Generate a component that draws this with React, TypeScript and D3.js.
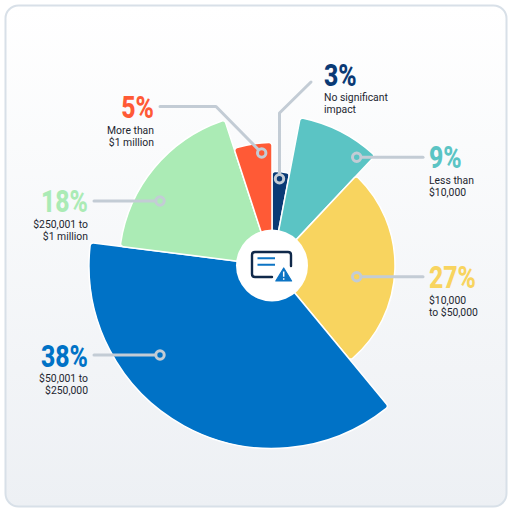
import React from "react";
import * as d3 from "d3";

const categories = ["No significant impact", "Less than $10,000", "$10,000 to $50,000", "$50,001 to $250,000", "$250,001 to $1 million", "More than $1 million"];
const shares = [3, 9, 27, 38, 18, 5];
const reach = [94, 150.5, 123, 183, 153, 123];
const colors = ["#0a3a75", "#5bc4c4", "#f8d45f", "#0072c6", "#abebb5", "#ff5a36"];
const labelLines = [["No significant", "impact"], ["Less than", "$10,000"], ["$10,000", "to $50,000"], ["$50,001 to", "$250,000"], ["$250,001 to", "$1 million"], ["More than", "$1 million"]];

const cx = 272, cy = 265.5;
const leaders: { pts: [number, number][]; x: number; y: number; a: "start" | "end"; l1: number }[] = [
  { pts: [[279.5, 178.7], [279.5, 113], [311, 82]], x: 324, y: 86, a: "start", l1: 101 },
  { pts: [[356.7, 157.3], [423, 157.3]], x: 429, y: 168, a: "start", l1: 184 },
  { pts: [[356.7, 276.7], [423, 276.7]], x: 429, y: 288, a: "start", l1: 304 },
  { pts: [[160, 355], [94, 355]], x: 88, y: 367, a: "end", l1: 382 },
  { pts: [[160, 201], [94, 201]], x: 88, y: 212, a: "end", l1: 228 },
  { pts: [[261.7, 153], [216, 106.5], [160, 106.5]], x: 154, y: 118, a: "end", l1: 134 },
];

export default function App() {
  const pie = d3.pie<number>().sort(null).value((d) => d)(shares);
  const arc = d3.arc<any>().innerRadius(20).cornerRadius(3);
  const line = d3.line();
  return (
    <svg width={512} height={512} style={{ position: "absolute", left: 0, top: 0 }} fontFamily="Roboto, sans-serif">
      <defs>
        <linearGradient id="bg" x1="0" y1="0" x2="0" y2="1">
          <stop offset="0" stopColor="#ffffff" />
          <stop offset="1" stopColor="#edf0f4" />
        </linearGradient>
      </defs>
      <rect x={5.5} y={5.5} width={501} height={501} rx={13} fill="url(#bg)" stroke="#d8e0e8" strokeWidth={2} />
      <g transform={`translate(${cx},${cy})`}>
        {pie.map((p, i) => (
          <path key={categories[i]} d={arc({ ...p, outerRadius: reach[i] }) as string} fill={colors[i]} stroke="#fff" strokeWidth={1.5} />
        ))}
        <circle r={36} fill="#fff" />
      </g>
      {leaders.map((l, i) => (
        <g key={i}>
          <path d={line(l.pts) as string} fill="none" stroke="#c3ccd5" strokeWidth={3} strokeLinecap="round" strokeLinejoin="round" />
          <circle cx={l.pts[0][0]} cy={l.pts[0][1]} r={4.2} fill={colors[i]} stroke="#c3ccd5" strokeWidth={3} />
          <g transform={`translate(${l.x},${l.y}) scale(0.8,1)`}>
            <text fontSize={31} fontWeight={800} fill={colors[i]} textAnchor={l.a}>{shares[i]}%</text>
          </g>
          {labelLines[i].map((t, j) => (
            <text key={t} x={l.x} y={l.l1 + j * 12.3} fontSize={10.4} fill="#1d2630" textAnchor={l.a}>{t}</text>
          ))}
        </g>
      ))}
      <g>
        <path d="M272 277 H255 Q252 277 252 274 V255 Q252 252 255 252 H288 Q291 252 291 255 V266" fill="none" stroke="#10294a" strokeWidth={2.4} strokeLinecap="round" />
        <path d="M257.5 258.3 H275 M257.5 264.7 H275" stroke="#0d74c4" strokeWidth={2} />
        <path d="M283.7 268 L291.6 281 H275.8 Z" fill="#0d74c4" stroke="#0d74c4" strokeWidth={1.2} strokeLinejoin="round" />
        <path d="M283.7 271.5 V276.8 M283.7 278.2 V279.8" stroke="#fff" strokeWidth={1.5} />
      </g>
    </svg>
  );
}
